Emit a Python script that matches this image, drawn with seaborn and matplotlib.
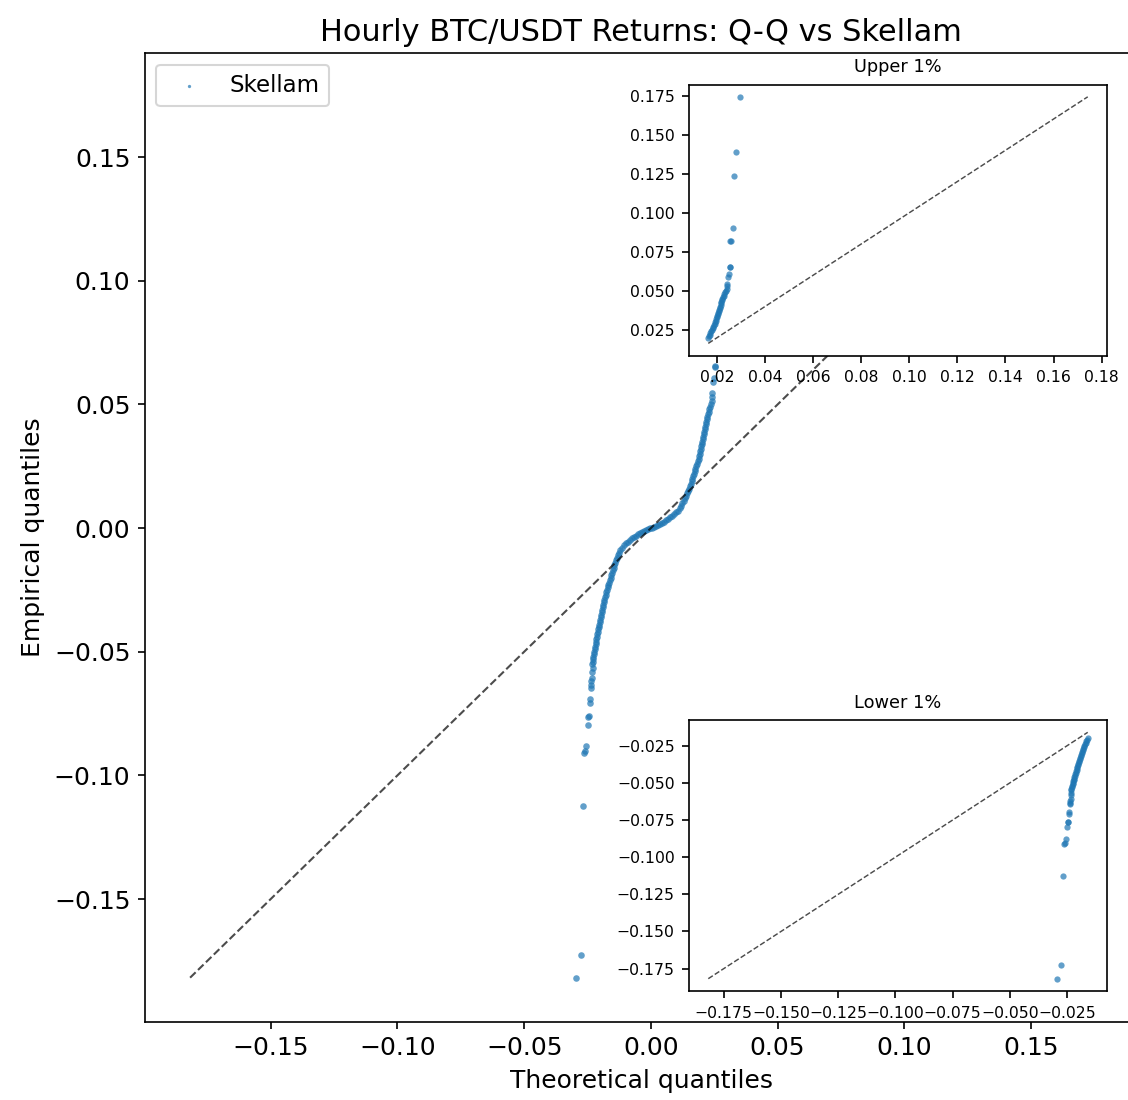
import numpy as np
import pandas as pd
import matplotlib
matplotlib.use("Agg")
import matplotlib.pyplot as plt
from matplotlib.ticker import MultipleLocator
import seaborn as sns

# ---- data (theoretical vs empirical quantiles) ----
lower_tail_theo = [-0.0294, -0.0275, -0.0267, -0.0262, -0.0260, -0.0256, -0.0250, -0.0247,
                   -0.0246, -0.0241, -0.0240, -0.0238, -0.0236, -0.0235, -0.0234, -0.0232, -0.0230]
lower_tail_emp = [-0.1818, -0.1725, -0.1125, -0.0909, -0.0903, -0.0880, -0.0797, -0.0765,
                  -0.0760, -0.0709, -0.0693, -0.0645, -0.0634, -0.0620, -0.0605, -0.0580, -0.0565]

lower_body_theo = [-0.0231, -0.0230, -0.0228, -0.0227, -0.0225, -0.0224, -0.0222, -0.0220,
                   -0.0218, -0.0217, -0.0215, -0.0213, -0.0212, -0.0210, -0.0208, -0.0206,
                   -0.0204, -0.0202, -0.0200, -0.0198, -0.0196, -0.0194, -0.0192, -0.0190,
                   -0.0188, -0.0186, -0.0184, -0.0181, -0.0179, -0.0176, -0.0174, -0.0171,
                   -0.0168, -0.0165, -0.0162, -0.0159, -0.0156, -0.0153, -0.0150, -0.0147,
                   -0.0144, -0.0141, -0.0138, -0.0134, -0.0130, -0.0126, -0.0121, -0.0115, -0.0108]
lower_body_emp = [-0.055, -0.054, -0.053, -0.052, -0.051, -0.050, -0.049, -0.048,
                  -0.047, -0.046, -0.045, -0.044, -0.043, -0.042, -0.041, -0.040,
                  -0.039, -0.038, -0.037, -0.036, -0.035, -0.034, -0.033, -0.032,
                  -0.031, -0.030, -0.029, -0.028, -0.027, -0.026, -0.025, -0.024,
                  -0.023, -0.022, -0.021, -0.020, -0.019, -0.018, -0.017, -0.016,
                  -0.015, -0.014, -0.013, -0.012, -0.011, -0.010, -0.009, -0.008, -0.007]

center_theo = [-0.0100, -0.0092, -0.0084, -0.0076, -0.0068, -0.0060, -0.0052, -0.0044,
               -0.0036, -0.0028, -0.0020, -0.0012, -0.0004, 0.0004, 0.0012, 0.0020,
               0.0028, 0.0036, 0.0044, 0.0052, 0.0060, 0.0068, 0.0076, 0.0084, 0.0092, 0.0100]
center_emp = [-0.0062, -0.0055, -0.0048, -0.0042, -0.0036, -0.0030, -0.0025, -0.0020,
              -0.0016, -0.0012, -0.0008, -0.0005, -0.0001, 0.0002, 0.0005, 0.0009,
              0.0013, 0.0017, 0.0021, 0.0026, 0.0032, 0.0038, 0.0044, 0.0050, 0.0057, 0.0064]

upper_body_theo = [0.0106, 0.0113, 0.0119, 0.0124, 0.0129, 0.0133, 0.0138, 0.0142,
                   0.0146, 0.0150, 0.0154, 0.0157, 0.0161, 0.0164, 0.0167, 0.0170,
                   0.0173, 0.0176, 0.0179, 0.0182, 0.0185, 0.0188, 0.0190, 0.0193,
                   0.0195, 0.0197, 0.0199, 0.0201, 0.0203, 0.0205, 0.0207, 0.0209,
                   0.0211, 0.0213, 0.0215, 0.0217, 0.0219, 0.0221, 0.0223, 0.0226,
                   0.0228, 0.0231, 0.0234, 0.0238]
upper_body_emp = [0.007, 0.008, 0.009, 0.010, 0.011, 0.012, 0.013, 0.014,
                  0.015, 0.016, 0.017, 0.018, 0.019, 0.020, 0.021, 0.022,
                  0.023, 0.024, 0.025, 0.026, 0.027, 0.028, 0.029, 0.030,
                  0.031, 0.032, 0.033, 0.034, 0.035, 0.036, 0.037, 0.038,
                  0.039, 0.040, 0.041, 0.042, 0.043, 0.044, 0.045, 0.046,
                  0.047, 0.048, 0.049, 0.050]

upper_tail_theo = [0.0241, 0.0242, 0.0243, 0.0246, 0.0249, 0.0253, 0.0254, 0.0256,
                   0.0260, 0.0265, 0.0271, 0.0278, 0.0297]
upper_tail_emp = [0.0515, 0.0530, 0.0546, 0.0589, 0.0606, 0.0650, 0.0655, 0.0818,
                  0.0822, 0.0903, 0.1234, 0.1386, 0.1742]

upper_cut = 0.0195    # threshold of the "Upper 1%" panel
lower_cut = -0.0195   # threshold of the "Lower 1%" panel

upper_xticks_step = 0.02
upper_yticks_step = 0.025
lower_xticks_step = 0.025
lower_yticks_step = 0.025

theo = np.array(lower_tail_theo + lower_body_theo + center_theo + upper_body_theo + upper_tail_theo)
emp = np.array(lower_tail_emp + lower_body_emp + center_emp + upper_body_emp + upper_tail_emp)
df = pd.DataFrame({"theo": theo, "emp": emp})

BLUE = "#1f77b4"

W, H = 1128, 1100
DPI = 150
fig = plt.figure(figsize=(W / DPI, H / DPI), dpi=DPI)

ax = fig.add_axes([145 / W, 78.3 / H, 992.5 / W, 968.4 / H])
sns.scatterplot(data=df, x="theo", y="emp", ax=ax, s=10, color=BLUE, alpha=0.7,
                linewidth=0, label="Skellam")
lo = min(df.theo.min(), df.emp.min())
hi = max(df.theo.max(), df.emp.max())
ax.plot([lo, hi], [lo, hi], ls="--", color="k", alpha=0.7, lw=1)
ax.set_title("Hourly BTC/USDT Returns: Q-Q vs Skellam", fontsize=14.6)
ax.set_xlabel("Theoretical quantiles", fontsize=12)
ax.set_ylabel("Empirical quantiles", fontsize=12)
ax.tick_params(labelsize=12)
ax.legend(loc="upper left", fontsize=11, markerscale=0.5)


def inset(rect, sub, title, xstep, ystep):
    a = fig.add_axes(rect)
    sns.scatterplot(data=sub, x="theo", y="emp", ax=a, s=9, color=BLUE, alpha=0.7,
                    linewidth=0)
    l = min(sub.theo.min(), sub.emp.min())
    h = max(sub.theo.max(), sub.emp.max())
    a.plot([l, h], [l, h], ls="--", color="k", alpha=0.7, lw=0.7)
    a.set_title(title, fontsize=8.5)
    a.set_xlabel("")
    a.set_ylabel("")
    a.xaxis.set_major_locator(MultipleLocator(xstep))
    a.yaxis.set_major_locator(MultipleLocator(ystep))
    a.tick_params(labelsize=7.5)
    return a


inset([689.3 / W, (H - 355.7) / H, 417.4 / W, 271.2 / H], df[df.emp >= upper_cut], "Upper 1%",
      upper_xticks_step, upper_yticks_step)
inset([689.3 / W, (H - 991.0) / H, 417.4 / W, 271.0 / H], df[df.emp <= lower_cut], "Lower 1%",
      lower_xticks_step, lower_yticks_step)

fig.savefig("out.png", dpi=DPI)
